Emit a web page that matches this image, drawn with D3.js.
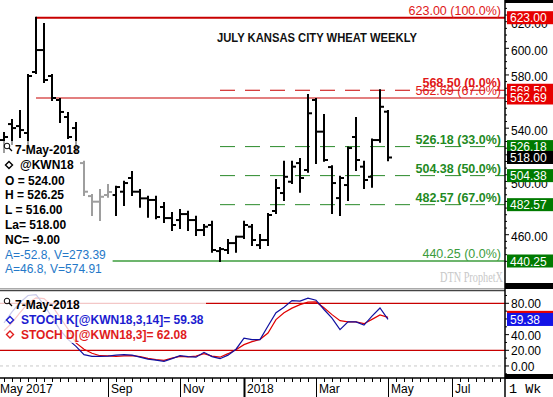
<!DOCTYPE html>
<html><head><meta charset="utf-8">
<script src="https://cdn.jsdelivr.net/npm/d3@7"></script>
<style>body{margin:0;background:#fff}svg{display:block;font-family:"Liberation Sans",Arial,sans-serif}</style>
</head><body><svg id="c" width="553" height="397"></svg>
<script>
// ---------- data ----------
const firstWeek = "2017-06-05", lastWeek = "2018-05-07";
const opens  = [531.1,543.1,541.6,536.4,582.2,598.7,579.2,561.2,548.4,540.1,513.8,489.0,484.8,489.8,489.8,492.3,502.6,492.3,487.3,486.1,480.8,472.5,471.0,475.5,471.0,463.5,467.3,447.7,448.5,453.7,458.5,466.0,452.2,456.0,477.8,491.3,499.8,513.8,508.6,561.2,537.4,510.8,487.5,497.3,533.4,511.1,503.5,531.1,552.4];
const highs  = [536.4,546.1,552.9,580.0,623.0,618.3,580.0,561.9,551.4,543.9,514.8,489.8,493.6,497.3,496.0,499.8,507.1,493.6,488.5,488.5,483.8,476.3,478.5,477.2,473.5,467.3,469.7,450.0,456.0,458.5,469.7,467.3,459.7,475.5,501.0,514.8,514.8,516.8,564.9,562.0,549.9,511.5,503.5,525.5,547.6,514.8,531.5,568.5,552.9];
const lows   = [522.1,528.1,533.4,525.9,581.5,574.7,561.2,544.6,532.6,521.4,489.8,474.8,471.0,488.5,474.8,482.3,489.8,481.0,473.5,472.3,469.5,463.5,465.0,463.5,459.7,459.7,447.2,440.25,446.2,447.2,457.5,452.2,450.0,452.2,476.3,486.1,498.8,492.3,507.3,513.8,515.5,476.3,474.8,486.1,508.6,495.1,496.0,529.8,516.0];
const closes = [533.4,540.1,538.6,579.2,598.7,576.2,562.7,552.2,533.4,525.9,492.3,484.8,488.5,492.1,495.8,498.8,492.3,487.3,486.1,473.3,472.5,467.3,475.5,471.0,463.5,466.0,448.5,449.2,453.7,458.5,467.3,456.0,456.0,474.8,495.1,503.5,511.1,502.6,551.2,537.4,516.1,498.8,502.6,525.1,516.1,501.1,531.1,556.1,518.0];
const stochK = [55,69,81,90,91,78,62,46,34,25,14.4,12.3,12.3,12.5,13.8,14.4,13.8,11.2,8.7,7.4,5.9,9.3,13.1,11.9,11.2,17.4,11.9,9.3,13.8,21.4,35.5,33.6,33.6,51,68,75,83.4,82.7,86.6,84,72.1,61,46.3,56.2,56.2,52.1,63.6,74.0,59.38];
const stochD = [45,55,68,80,87,86,77,62,47,29.4,21.4,16.3,13.1,12.8,12.3,12.8,13.1,11.9,9.7,8.0,7.1,10,12.3,11.6,12.5,15.7,12.5,11.2,15.7,20.8,27.2,31,34,42.1,59.1,68,73.8,78.3,81.4,81.7,74.4,65.5,57.8,56.2,56.2,54,59.5,65.1,62.08];
const priceTicks = [440,460,480,500,520,540,560,580,600,620];
const priceTickLabels = [460,500,540,580,600,620];   // those not fully covered by value boxes
const stochTicks = [0,20,40,60,80];
const stochTickLabels = [0,20,40,80];
const monthTickDates  = ["2017-05-01","2017-09-04","2017-11-06","2018-01-01","2018-03-05","2018-05-07","2018-07-02"];
const monthTickLabels = ["May 2017","Sep","Nov","2018","Mar","May","Jul"];
const fibLevels = [623.00,568.50,562.69,526.18,504.38,482.57,440.25];
const fibLabels = ["623.00 (100.0%)","568.50 (0.0%)","562.69 (67.0%)","526.18 (33.0%)","504.38 (50.0%)","482.57 (67.0%)","440.25 (0.0%)"];
const fibStartWeek = [4,27,4,27,27,27,13.5];
const lastClose = 518.00;
const lastK = 59.38, lastD = 62.08;
const infoTitle = ["7-May-2018","@KWN18"];
const infoOHLC = ["O = 524.00","H = 526.25","L = 516.00","La= 518.00","NC= -9.00"];
const infoAV = ["A=-52.8, V=273.39","A=46.8, V=574.91"];
const stochLegend = ["7-May-2018","STOCH K[@KWN18,3,14]= 59.38","STOCH D[@KWN18,3]= 62.08"];
const chartTitle = "JULY KANSAS CITY WHEAT WEEKLY";

// ---------- scales ----------
const W = 553, PR = 505;
const svg = d3.select("#c");
const parse = d3.utcParse("%Y-%m-%d");
const d0 = parse(firstWeek), d1 = parse(lastWeek);
const weeks = d3.utcMonday.range(d0, d3.utcDay.offset(d1, 1));
const x = d3.scaleUtc().domain([d0, d1]).range([4, 388]);
const xw = i => x(new Date(d0.getTime() + i * 7 * 864e5));
const yP = d3.scaleLinear().domain([623, 440.25]).range([17.7, 261]);
const yS = d3.scaleLinear().domain([80, 20]).range([303.3, 350.3]);

const defs = svg.append("defs");
defs.append("clipPath").attr("id","cm").append("rect").attr("x",0).attr("y",0).attr("width",PR).attr("height",288);
defs.append("clipPath").attr("id","cs").append("rect").attr("x",0).attr("y",291).attr("width",PR).attr("height",87);
defs.append("clipPath").attr("id","ca").append("rect").attr("x",PR).attr("y",0).attr("width",W-PR).attr("height",397);

// ---------- main panel ----------
const gm = svg.append("g").attr("clip-path","url(#cm)");
const RED = "#c80000", GRN = "#2a8a2a";
const fibStyle = [
  {c:RED,w:2,d:null},{c:RED,w:1,d:"15,10"},{c:RED,w:1.2,d:null},
  {c:GRN,w:1,d:"15,10"},{c:GRN,w:1,d:"15,10"},{c:GRN,w:1,d:"15,10"},{c:"#3c9c3c",w:1.3,d:null}];
fibLevels.forEach((v,i)=>{
  gm.append("line").attr("x1",xw(fibStartWeek[i])).attr("x2",PR)
    .attr("y1",yP(v)).attr("y2",yP(v))
    .attr("stroke",fibStyle[i].c).attr("stroke-width",fibStyle[i].w)
    .attr("stroke-dasharray",fibStyle[i].d);
});

// OHLC bars
const bars = gm.append("g").attr("stroke","#000").attr("stroke-width",2);
weeks.forEach((d,i)=>{
  const cx = x(d);
  bars.append("line").attr("x1",cx).attr("x2",cx).attr("y1",yP(highs[i])-1).attr("y2",yP(lows[i])+1);
  bars.append("line").attr("x1",cx-4).attr("x2",cx).attr("y1",yP(opens[i])).attr("y2",yP(opens[i]));
  bars.append("line").attr("x1",cx).attr("x2",cx+4).attr("y1",yP(closes[i])).attr("y2",yP(closes[i]));
});

// info overlay
gm.append("rect").attr("x",0).attr("y",141).attr("width",113).attr("height",135).attr("fill","#fff").attr("opacity",0.62);

// title
svg.append("text").attr("x",217).attr("y",42).attr("font-size",12.5).attr("font-weight","bold")
  .attr("textLength",200).attr("lengthAdjust","spacingAndGlyphs").attr("fill","#111").text(chartTitle);

// fib labels
const fibTextStyle = [
  {c:"#e01818",b:false},{c:"#e01818",b:true},{c:"#e01818",b:false},
  {c:"#1f8a1f",b:true},{c:"#1f8a1f",b:true},{c:"#1f8a1f",b:true},{c:"#3c9c3c",b:false}];
fibLevels.forEach((v,i)=>{
  svg.append("text").attr("x",501).attr("y",yP(v)-3).attr("text-anchor","end")
    .attr("font-size",12.5).attr("font-weight",fibTextStyle[i].b?"bold":"normal")
    .attr("fill",fibTextStyle[i].c).text(fibLabels[i]);
});

// info texts
function magnifier(g, cx, cy){
  g.append("circle").attr("cx",cx).attr("cy",cy).attr("r",2.8).attr("fill","none").attr("stroke","#000").attr("stroke-width",1);
  g.append("line").attr("x1",cx+2).attr("y1",cy+2).attr("x2",cx+5).attr("y2",cy+5).attr("stroke","#000").attr("stroke-width",1.3);
}
function diamond(g, cx, cy, col){
  g.append("path").attr("d",`M${cx},${cy-3.5}L${cx+3.5},${cy}L${cx},${cy+3.5}L${cx-3.5},${cy}Z`)
   .attr("fill","#fff").attr("stroke",col).attr("stroke-width",1.4);
}
const gi = svg.append("g");
magnifier(gi, 7, 146);
gi.append("text").attr("x",15).attr("y",154).attr("font-size",12).attr("font-weight","bold").text(infoTitle[0]);
diamond(gi, 9, 165, "#000");
gi.append("text").attr("x",20).attr("y",169).attr("font-size",12).attr("font-weight","bold").text(infoTitle[1]);
infoOHLC.forEach((t,i)=>gi.append("text").attr("x",5).attr("y",184.5+i*14.8).attr("font-size",12).attr("font-weight","bold").text(t));
infoAV.forEach((t,i)=>gi.append("text").attr("x",5).attr("y",258.5+i*14.3).attr("font-size",12).attr("fill","#2478c8").text(t));

// watermark
svg.append("text").attr("x",440).attr("y",282).attr("font-family","'Liberation Serif',serif").attr("font-size",15)
  .attr("textLength",63).attr("lengthAdjust","spacingAndGlyphs").attr("fill","#c8c8c8").text("DTN ProphetX");

// ---------- stoch panel ----------
const gs = svg.append("g").attr("clip-path","url(#cs)");
gs.append("line").attr("x1",0).attr("x2",PR).attr("y1",yS(0)).attr("y2",yS(0)).attr("stroke","#c8c8c8").attr("stroke-dasharray","3,3");
[80,20].forEach(v=>gs.append("line").attr("x1",0).attr("x2",PR).attr("y1",yS(v)).attr("y2",yS(v)).attr("stroke",RED).attr("stroke-width",1.3));
const lineGen = arr => d3.line().x((d,i)=>x(weeks[i])).y(d=>yS(d))(arr);
gs.append("path").attr("d",lineGen(stochD)).attr("fill","none").attr("stroke","#e00000").attr("stroke-width",1.2);
gs.append("path").attr("d",lineGen(stochK)).attr("fill","none").attr("stroke","#1010a0").attr("stroke-width",1.2);
gs.append("rect").attr("x",0).attr("y",292).attr("width",206).attr("height",51).attr("fill","#fff").attr("opacity",0.78);
magnifier(svg, 7, 301);
svg.append("text").attr("x",15).attr("y",309).attr("font-size",12).attr("font-weight","bold").text(stochLegend[0]);
diamond(svg, 10, 320, "#1c1cd0");
svg.append("text").attr("x",21).attr("y",324).attr("font-size",12).attr("font-weight","bold").attr("fill","#1c1cd0").text(stochLegend[1]);
diamond(svg, 10, 334.5, "#e01c1c");
svg.append("text").attr("x",21).attr("y",338.5).attr("font-size",12).attr("font-weight","bold").attr("fill","#e01c1c").text(stochLegend[2]);

// ---------- frames ----------
svg.append("line").attr("x1",0).attr("x2",PR).attr("y1",288.5).attr("y2",288.5).attr("stroke","#aaa").attr("stroke-width",1);
svg.append("line").attr("x1",0).attr("x2",PR).attr("y1",290.5).attr("y2",290.5).attr("stroke","#444").attr("stroke-width",1.5);
svg.append("line").attr("x1",0).attr("x2",W).attr("y1",378).attr("y2",378).attr("stroke","#000").attr("stroke-width",1.5);

// ---------- right price axis ----------
const ga = svg.append("g").attr("clip-path","url(#ca)");
d3.range(440,636,5).forEach(v=>{
  ga.append("line").attr("x1",PR).attr("x2",PR+(v%20===0?4:2)).attr("y1",yP(v)).attr("y2",yP(v)).attr("stroke","#000");
});
priceTickLabels.forEach(v=>{
  ga.append("text").attr("x",511).attr("y",yP(v)+6.5).attr("font-size",12).text(d3.format(".2f")(v));
});
const boxes = [
  {v:623.00,c:"#e60000"},{v:568.50,c:"#e60000"},{v:562.69,c:"#e60000"},
  {v:526.18,c:"#007a00"},{v:lastClose,c:"#000"},{v:504.38,c:"#007a00"},{v:482.57,c:"#007a00"},{v:440.25,c:"#007a00"}];
boxes.forEach(b=>{
  ga.append("rect").attr("x",507).attr("y",yP(b.v)-6.5).attr("width",46).attr("height",13).attr("fill",b.c);
  ga.append("text").attr("x",510).attr("y",yP(b.v)+4.5).attr("font-size",12).attr("fill","#fff").text(d3.format(".2f")(b.v));
});

// ---------- right stoch axis ----------
d3.range(-10,96,10).forEach(v=>{
  ga.append("line").attr("x1",PR).attr("x2",PR+(v%20===0?4:2)).attr("y1",yS(v)).attr("y2",yS(v)).attr("stroke","#000");
});
stochTickLabels.forEach(v=>{
  ga.append("text").attr("x",511).attr("y",yS(v)+5).attr("font-size",12).text(d3.format(".2f")(v));
});
ga.append("rect").attr("x",507).attr("y",yS(lastD)-6.5).attr("width",46).attr("height",13).attr("fill","#e60000");
ga.append("rect").attr("x",507).attr("y",yS(lastK)-6.5).attr("width",46).attr("height",13).attr("fill","#1414e6");
ga.append("text").attr("x",510).attr("y",yS(lastK)+4.5).attr("font-size",12).attr("fill","#fff").text(d3.format(".2f")(lastK));

// thick bands & axis line
[[0,3],[283,6],[374,5]].forEach(([y,h])=>svg.append("rect").attr("x",PR).attr("y",y).attr("width",W-PR).attr("height",h).attr("fill","#000"));
svg.append("line").attr("x1",PR).attr("x2",PR).attr("y1",0).attr("y2",397).attr("stroke","#000").attr("stroke-width",1.5);

// ---------- bottom time axis ----------
const gx = svg.append("g");
d3.utcMonday.range(x.invert(0), x.invert(PR)).forEach(d=>{
  gx.append("line").attr("x1",Math.round(x(d))+0.5).attr("x2",Math.round(x(d))+0.5).attr("y1",378).attr("y2",382).attr("stroke","#000");
});
monthTickDates.forEach((s,i)=>{
  const px = x(parse(s));
  if (px >= 0) gx.append("line").attr("x1",Math.round(px)+0.5).attr("x2",Math.round(px)+0.5).attr("y1",378).attr("y2",397)
      .attr("stroke","#000").attr("stroke-width",monthTickLabels[i]==="2018"?2:1);
  gx.append("text").attr("x",Math.max(px+3,0)).attr("y",393).attr("font-size",12).text(monthTickLabels[i]);
});
gx.append("text").attr("x",509).attr("y",393).attr("font-family","'Liberation Mono',monospace").attr("font-size",13.5).text("1 Wk");
</script></body></html>
